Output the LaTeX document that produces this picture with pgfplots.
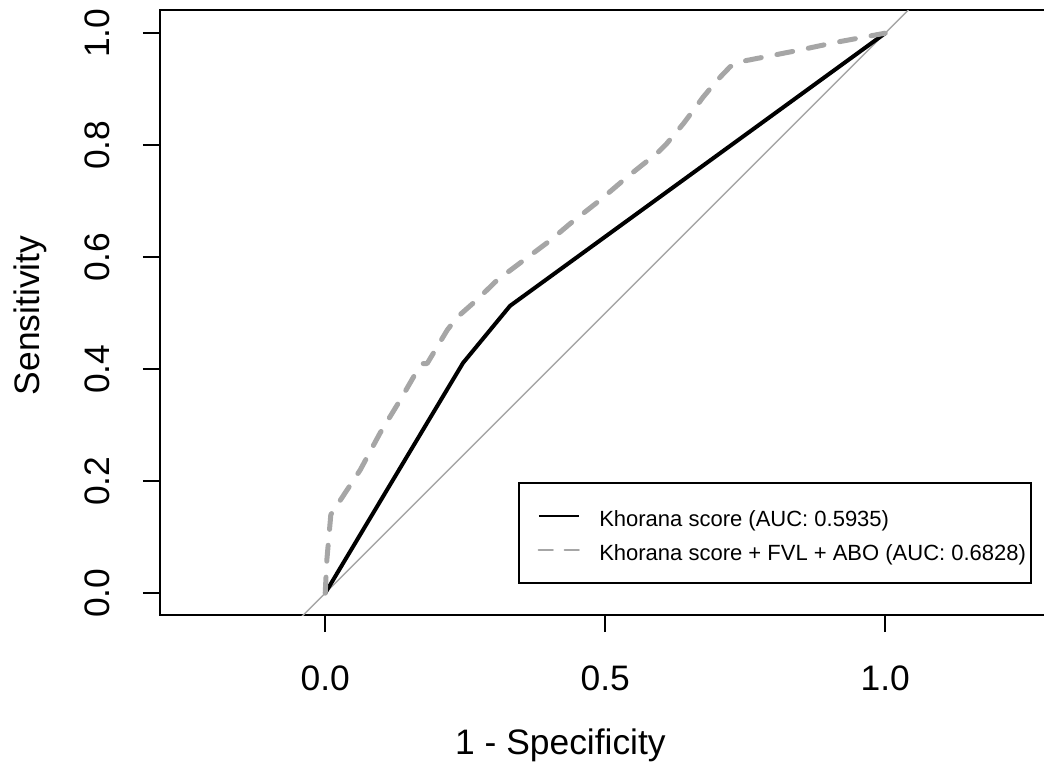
\documentclass[border=0pt]{standalone}
\usepackage{pgfplots}
\pgfplotsset{compat=1.18}
\usepackage{fontspec}
\setmainfont{Liberation Sans}
\definecolor{rocgray}{HTML}{A6A6A6}
\begin{document}
\begin{tikzpicture}
\useasboundingbox (-80pt,-79pt) rectangle (442pt,307.5pt);
\begin{axis}[
  scale only axis,
  width=444.1pt, height=302.4pt,
  xmin=-0.295, xmax=1.291, ymin=-0.039, ymax=1.041,
  axis line style={line width=1pt},
  xtick={0,0.5,1}, ytick={0,0.2,...,1},
  xticklabels={0.0,0.5,1.0},
  yticklabels={0.0,0.2,0.4,0.6,0.8,1.0},
  tick align=outside, major tick length=8.5pt,
  tick style={line width=0.9pt, black},
  xtick pos=bottom, ytick pos=left,
  tick label style={font=\fontsize{17.7}{20}\selectfont},
  yticklabel style={rotate=90, anchor=south},
  xticklabel shift=13.5pt, yticklabel shift=13pt,
  xlabel={1 - Specificity}, ylabel={Sensitivity},
  every axis x label/.style={at={(axis cs:0.42,-0.039)}, yshift=-65pt, anchor=center,
    font=\fontsize{17.7}{20}\selectfont},
  every axis y label/.style={at={(axis cs:-0.295,0.496)}, xshift=-65pt, anchor=center, rotate=90,
    font=\fontsize{17.7}{20}\selectfont},
  legend style={at={(rel axis cs:0.9818,0.0517)}, anchor=south east,
    font=\fontsize{11}{13}\selectfont, draw=black, line width=1pt,
    inner xsep=2.5pt, inner ysep=11pt, row sep=6pt,
    nodes={inner xsep=0pt, inner ysep=0pt, text height=11pt, text depth=0pt}},
  legend cell align=left,
]
\addplot[rocgray, line width=0.75pt, forget plot] coordinates {(-0.4,-0.4) (1.4,1.4)};
\addplot[black, line width=2pt, line join=round,
  legend image code/.code={\path (3pt,0pt) (38pt,0pt);
    \draw[black, line width=1pt] (9pt,0pt) -- (29pt,0pt);}]
  coordinates {(0,0) (0.246,0.411) (0.330,0.513) (1,1)};
\addlegendentry{Khorana score (AUC: 0.5935)}
\addplot[rocgray, line width=2.5pt, line cap=round, line join=round, dash pattern=on 8pt off 8pt,
  legend image code/.code={\path (3pt,0pt) (38pt,0pt);
    \draw[rocgray, line width=1.2pt, dash pattern=on 7pt off 6pt] (9pt,0pt) -- (29pt,0pt);}]
  coordinates {(0,0) (0.003,0.06) (0.01,0.14) (0.027,0.166) (0.0625,0.22) (0.098,0.286)
    (0.134,0.345) (0.16,0.39) (0.175,0.41) (0.182,0.41) (0.2,0.44) (0.218,0.47)
    (0.236,0.493) (0.27,0.523) (0.307,0.559) (0.402,0.630) (0.4375,0.66) (0.491,0.702)
    (0.539,0.743) (0.593,0.786) (0.61,0.803) (0.64,0.839) (0.675,0.886) (0.70,0.916)
    (0.723,0.94) (0.741,0.949) (0.782,0.957) (0.848,0.97) (0.914,0.984) (1,1)};
\addlegendentry{Khorana score + FVL + ABO (AUC: 0.6828)}
\end{axis}
\end{tikzpicture}
\end{document}
